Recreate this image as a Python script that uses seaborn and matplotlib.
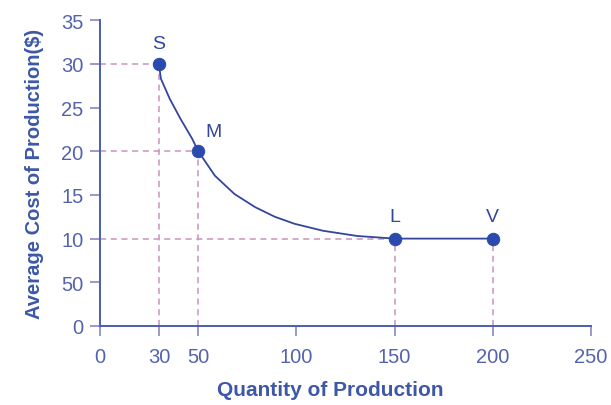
import matplotlib
matplotlib.use("Agg")
import matplotlib.pyplot as plt
import pandas as pd
import seaborn as sns

# Named points on the cost curve
point_names = ["S", "M", "L", "V"]
point_qty = [30, 50, 150, 200]
point_cost = [30, 20, 10, 10]

# Curve (S -> M -> L, then flat to V)
curve_qty = [30, 31, 35.5, 41, 47, 50, 58.5, 68.5, 79, 89, 99, 113.5, 131, 150, 200]
curve_cost = [30, 28.3, 26.0, 23.7, 21.4, 20, 17.2, 15.1, 13.6, 12.5, 11.7, 10.9, 10.3, 10, 10]

x_ticks = [0, 30, 50, 100, 150, 200, 250]
y_ticks = [0, 5, 10, 15, 20, 25, 30, 35]
y_tick_labels = ["0", "50", "10", "15", "20", "25", "30", "35"]

BLUE = "#4a5db5"
DARK = "#34469c"
DOT = "#2b4aae"
PINK = "#c994bd"
TEXT = "#5563ad"

sns.set_style("white")
plt.rcParams["font.family"] = ["Liberation Sans", "DejaVu Sans"]

fig = plt.figure(figsize=(6.11, 4.06), dpi=100)
ax = fig.add_axes([0.1637, 0.1946, 0.8033, 0.7534])

# dashed guide lines
for q, c in zip(point_qty, point_cost):
    ax.plot([q, q], [0, c], ls=(0, (4, 3)), color=PINK, lw=1.1, zorder=1)
for q, c in zip(point_qty[:3], point_cost[:3]):
    ax.plot([0, q], [c, c], ls=(0, (4, 3)), color=PINK, lw=1.1, zorder=1)

curve = pd.DataFrame({"qty": curve_qty, "cost": curve_cost})
sns.lineplot(data=curve, x="qty", y="cost", sort=False, color=DARK, lw=1.3,
             ax=ax, zorder=2)

pts = pd.DataFrame({"qty": point_qty, "cost": point_cost, "name": point_names})
sns.scatterplot(data=pts, x="qty", y="cost", color=DOT, s=80, edgecolor=DOT,
                ax=ax, zorder=3, legend=False)

offsets = {"S": (0, 1.4), "M": (8, 1.3), "L": (0, 1.5), "V": (0, 1.5)}
for n, q, c in zip(point_names, point_qty, point_cost):
    dx, dy = offsets[n]
    ax.text(q + dx, c + dy, n, ha="center", va="bottom", fontsize=14,
            color=DARK)

ax.set_xlim(0, 250)
ax.set_ylim(0, 35)
ax.set_xticks(x_ticks)
ax.set_yticks(y_ticks)
ax.set_yticklabels(y_tick_labels)

for side in ["top", "right"]:
    ax.spines[side].set_visible(False)
for side in ["left", "bottom"]:
    ax.spines[side].set_color(BLUE)
    ax.spines[side].set_linewidth(1.4)
ax.tick_params(axis="both", direction="out", length=7, width=1.2,
               bottom=True, left=True,
               color="#8a86c4", labelcolor=TEXT, labelsize=14.5, pad=5)
ax.tick_params(axis="x", pad=8)

ax.set_xlabel("Quantity of Production", fontsize=15, fontweight="bold",
              color="#3d58a8", labelpad=10)
ax.xaxis.label.set_x(0.47)
ax.set_ylabel("Average Cost of Production($)", fontsize=14.5,
              fontweight="bold", color="#3d58a8", labelpad=12)

fig.savefig("out.png", dpi=100)
